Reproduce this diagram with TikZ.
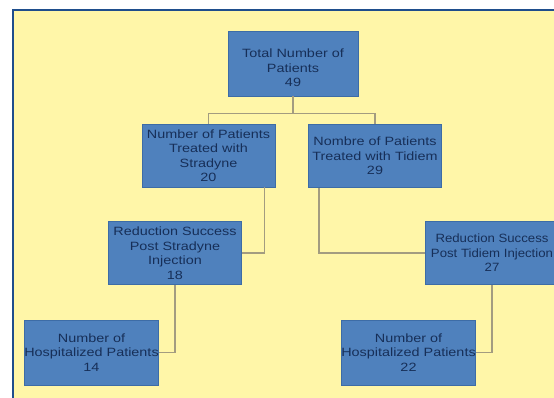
\documentclass[tikz,border=0pt]{standalone}
\usepackage{fontspec}
\setmainfont{Liberation Sans}[FakeStretch=1.2]
\newfontfamily\narrowfont{Liberation Sans}[FakeStretch=1.1]
\definecolor{panel}{HTML}{FFF6A8}
\definecolor{frame}{HTML}{1F4E8C}
\definecolor{boxfill}{HTML}{4F81BD}
\definecolor{boxline}{HTML}{3D6CA6}
\definecolor{boxtext}{HTML}{172F58}
\definecolor{wire}{HTML}{A39C80}
\begin{document}
\begin{tikzpicture}[x=1pt,y=-1pt,
  orgbox/.style={rectangle,draw=boxline,line width=0.8pt,fill=boxfill,
    minimum width=133pt,minimum height=63pt,inner sep=0pt,align=center,
    text=boxtext,font=\fontsize{12}{14.5}\selectfont},
  link/.style={draw=wire,line width=1.5pt}]
\useasboundingbox (0,0) rectangle (554,397);
\fill[white] (0,0) rectangle (554,397);
\draw[fill=panel,draw=frame,line width=2.5pt] (13,10) rectangle (600,440);
\node[orgbox,minimum width=130pt,minimum height=65pt] (top) at (293,63.5) {\rule{0pt}{18pt}Total Number of\\Patients\\49};
\node[orgbox] (L2) at (208.5,155.5) {Number of Patients\\Treated with\\Stradyne\\20};
\node[orgbox] (R2) at (375,156) {Nombre of Patients\\Treated with Tidiem\\29};
\node[orgbox] (L3) at (175,253) {Reduction Success\\Post Stradyne\\Injection\\18};
\node[orgbox,font=\narrowfont\fontsize{12}{14.5}\selectfont] (R3) at (492,253) {Reduction Success\\Post Tidiem Injection\\27};
\node[orgbox,minimum height=65pt] (L4) at (91.5,352.5) {Number of\\Hospitalized Patients\\14};
\node[orgbox,minimum height=65pt] (R4) at (408.5,352.5) {Number of\\Hospitalized Patients\\22};
\coordinate (split) at ([yshift=-17pt]top.south);
\draw[link] (top.south) -- (split);
\draw[link] (split) -| (L2.north);
\draw[link] (split) -| (R2.north);
\draw[link] ([xshift=-11pt]L2.south east) |- (L3.east);
\draw[link] ([xshift=11pt]R2.south west) |- (R3.west);
\draw[link] (L3.south) |- (L4.east);
\draw[link] (R3.south) |- (R4.east);
\end{tikzpicture}
\end{document}
